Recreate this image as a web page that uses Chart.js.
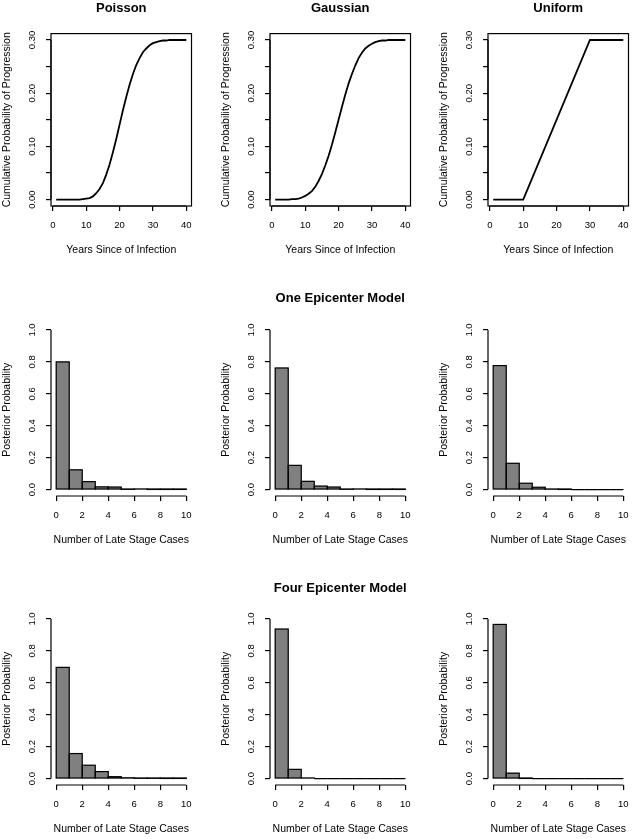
<!DOCTYPE html>
<html>
<head>
<meta charset="utf-8">
<script src="https://cdn.jsdelivr.net/npm/chart.js@4.4.1/dist/chart.umd.min.js"></script>
<style>
  body { margin: 0; width: 632px; height: 839px; overflow: hidden; position: relative; background: #fff; }
  canvas { position: absolute; }
</style>
</head>
<body>
<canvas id="poisson" width="218" height="289" style="left:0;top:0"></canvas>
<canvas id="gaussian" width="218" height="289" style="left:219px;top:0"></canvas>
<canvas id="uniform" width="218" height="289" style="left:437px;top:0"></canvas>
<canvas id="onePoisson" width="218" height="289" style="left:0;top:290px"></canvas>
<canvas id="oneGaussian" width="218" height="289" style="left:219px;top:290px"></canvas>
<canvas id="oneUniform" width="218" height="289" style="left:437px;top:290px"></canvas>
<canvas id="fourPoisson" width="218" height="289" style="left:0;top:579px"></canvas>
<canvas id="fourGaussian" width="218" height="289" style="left:219px;top:579px"></canvas>
<canvas id="fourUniform" width="218" height="289" style="left:437px;top:579px"></canvas>
<script>
// progression curves (years 1..40)
const years = [1, 2, 3, 4, 5, 6, 7, 8, 9, 10, 11, 12, 13, 14, 15, 16, 17, 18, 19, 20,
  21, 22, 23, 24, 25, 26, 27, 28, 29, 30, 31, 32, 33, 34, 35, 36, 37, 38, 39, 40];
const poissonCum = [0, 0, 0, 0, 0, 0, 0, 0, 0.001, 0.002, 0.003, 0.006, 0.012, 0.020, 0.031,
  0.047, 0.066, 0.089, 0.114, 0.141, 0.168, 0.193, 0.216, 0.236, 0.253, 0.266, 0.277, 0.284,
  0.290, 0.294, 0.296, 0.298, 0.299, 0.299, 0.300, 0.300, 0.300, 0.300, 0.300, 0.300];
const gaussianCum = [0, 0, 0, 0, 0, 0.001, 0.001, 0.002, 0.004, 0.007, 0.011, 0.016, 0.024, 0.035,
  0.048, 0.064, 0.082, 0.103, 0.126, 0.150, 0.174, 0.197, 0.218, 0.236, 0.252, 0.266, 0.276,
  0.284, 0.289, 0.293, 0.296, 0.298, 0.299, 0.299, 0.300, 0.300, 0.300, 0.300, 0.300, 0.300];
const uniformYears = [1, 10, 30, 40];
const uniformCum = [0, 0, 0.3, 0.3];

const yearTicks = [0, 10, 20, 30, 40];
const cumTicks = [0, 0.05, 0.1, 0.15, 0.2, 0.25, 0.3];

// posterior of late stage cases, bins [k, k+1)
const caseBins = [0, 1, 2, 3, 4, 5, 6, 7, 8, 9];
const caseTicks = [0, 2, 4, 6, 8, 10];
const probTicks = [0, 0.2, 0.4, 0.6, 0.8, 1];

const oneEpiPoisson = [0.80, 0.124, 0.05, 0.017, 0.016, 0.002, 0.004, 0.001, 0.001, 0.001];
const oneEpiGaussian = [0.762, 0.152, 0.052, 0.022, 0.016, 0.002, 0.004, 0.001, 0.001, 0.001];
const oneEpiUniform = [0.777, 0.165, 0.04, 0.015, 0.003, 0.001, 0, 0, 0, 0];
const fourEpiPoisson = [0.697, 0.157, 0.084, 0.044, 0.012, 0.005, 0.002, 0.002, 0.001, 0.001];
const fourEpiGaussian = [0.937, 0.058, 0.004, 0, 0, 0, 0, 0, 0, 0];
const fourEpiUniform = [0.966, 0.034, 0.001, 0, 0, 0, 0, 0, 0, 0];

const FONT = "'Liberation Sans', Arial, Helvetica, sans-serif";
Chart.defaults.font.family = FONT;
Chart.defaults.color = "#000";
Chart.defaults.animation = false;
Chart.defaults.plugins.legend.display = false;
Chart.defaults.plugins.tooltip.enabled = false;

const meas = document.createElement("canvas").getContext("2d");
function widest(labels) {
  meas.font = "9.5px " + FONT;
  return Math.max(...labels.map(l => meas.measureText(l).width));
}

// R look: axis line only between first and last tick, optional box, bar outlines
const rStyle = {
  id: "rStyle",
  afterDatasetsDraw(chart, args, opts) {
    const { ctx, chartArea: a, scales: { x, y } } = chart;
    ctx.save();
    ctx.strokeStyle = "#000";
    ctx.lineWidth = 1.2;
    const meta = chart.getDatasetMeta(0);
    if (meta.type === "bar") {
      meta.data.forEach(bar => {
        const p = bar.getProps(["x", "y", "base", "width"], true);
        ctx.strokeRect(p.x - p.width / 2, Math.min(p.y, p.base), p.width, Math.abs(p.base - p.y));
      });
    }
    if (opts.box) ctx.strokeRect(a.left, a.top, a.width, a.height);
    const xt = x.ticks, yt = y.ticks;
    ctx.beginPath();
    ctx.moveTo(x.getPixelForValue(xt[0].value), a.bottom);
    ctx.lineTo(x.getPixelForValue(xt[xt.length - 1].value), a.bottom);
    ctx.moveTo(a.left, y.getPixelForValue(yt[0].value));
    ctx.lineTo(a.left, y.getPixelForValue(yt[yt.length - 1].value));
    ctx.stroke();
    ctx.restore();
  }
};

function xAxis(min, max, ticks, title) {
  return {
    type: "linear", min: min, max: max, offset: false, bounds: "data",
    afterBuildTicks: s => { s.ticks = ticks.map(v => ({ value: v })); },
    afterFit: s => { s.height = 83; },
    grid: { drawOnChartArea: false, tickLength: 5, color: "#000", lineWidth: 1.2, offset: false },
    border: { display: false },
    ticks: { font: { size: 9.5 }, padding: 9.1, maxRotation: 0, autoSkip: false, callback: v => String(v) },
    title: { display: true, text: title, font: { size: 10.5 }, padding: { top: 0, bottom: 32.4 } }
  };
}

function yAxis(min, max, ticks, labels, title) {
  const w = widest(labels);
  return {
    type: "linear", min: min, max: max, bounds: "data",
    afterBuildTicks: s => { s.ticks = ticks.map(v => ({ value: v })); },
    afterFit: s => { s.width = 51; },
    grid: { drawOnChartArea: false, tickLength: 5, color: "#000", lineWidth: 1.2 },
    border: { display: false },
    ticks: {
      font: { size: 9.5 }, minRotation: 90, maxRotation: 90, crossAlign: "center",
      padding: 13.5 - w / 2, autoSkip: false, callback: (v, i) => labels[i]
    },
    title: { display: true, text: title, font: { size: 10.5 }, padding: { top: 1.2, bottom: 0 } }
  };
}

function titleOpts(text, top) {
  return {
    display: !!text, text: text, fullSize: false, color: "#000",
    font: { size: 13, weight: "bold" },
    padding: { top: top, bottom: 33.6 - 15.6 - top }
  };
}

const cumLabels = cumTicks.map(v => (Math.round(v * 100) % 10 === 0 ? v.toFixed(2) : ""));
const probLabels = probTicks.map(v => v.toFixed(1));

// top row: progression curves
function curvePanel(id, title, xs, ys) {
  new Chart(document.getElementById(id), {
    type: "line",
    data: {
      datasets: [{
        data: xs.map((x, i) => ({ x: x, y: ys[i] })),
        borderColor: "#000", borderWidth: 1.8, pointRadius: 0, tension: 0, fill: false
      }]
    },
    options: {
      responsive: false,
      layout: { padding: { top: 0, right: 26.5, left: 0, bottom: 0 } },
      scales: {
        x: xAxis(-0.56, 41.56, yearTicks, "Years Since of Infection"),
        y: yAxis(-0.012, 0.312, cumTicks, cumLabels, "Cumulative Probability of Progression")
      },
      plugins: { title: titleOpts(title, 0.2), rStyle: { box: true } }
    },
    plugins: [rStyle]
  });
}

// lower rows: posterior histograms
function histPanel(id, title, titleTop, values) {
  new Chart(document.getElementById(id), {
    type: "bar",
    data: {
      datasets: [{
        data: caseBins.map((b, i) => ({ x: b + 0.5, y: values[i] })),
        backgroundColor: "#808080", borderWidth: 0,
        barPercentage: 1, categoryPercentage: 1
      }]
    },
    options: {
      responsive: false,
      layout: { padding: { top: title ? 0 : 33.6, right: 26.5, left: 0, bottom: 0 } },
      scales: {
        x: xAxis(-0.4, 10.4, caseTicks, "Number of Late Stage Cases"),
        y: yAxis(-0.04, 1.04, probTicks, probLabels, "Posterior Probability")
      },
      plugins: { title: titleOpts(title, titleTop), rStyle: { box: false } }
    },
    plugins: [rStyle]
  });
}

curvePanel("poisson", "Poisson", years, poissonCum);
curvePanel("gaussian", "Gaussian", years, gaussianCum);
curvePanel("uniform", "Uniform", uniformYears, uniformCum);

histPanel("onePoisson", "", 0.2, oneEpiPoisson);
histPanel("oneGaussian", "One Epicenter Model", 0.2, oneEpiGaussian);
histPanel("oneUniform", "", 0.2, oneEpiUniform);

histPanel("fourPoisson", "", 1.2, fourEpiPoisson);
histPanel("fourGaussian", "Four Epicenter Model", 1.2, fourEpiGaussian);
histPanel("fourUniform", "", 1.2, fourEpiUniform);
</script>
</body>
</html>
